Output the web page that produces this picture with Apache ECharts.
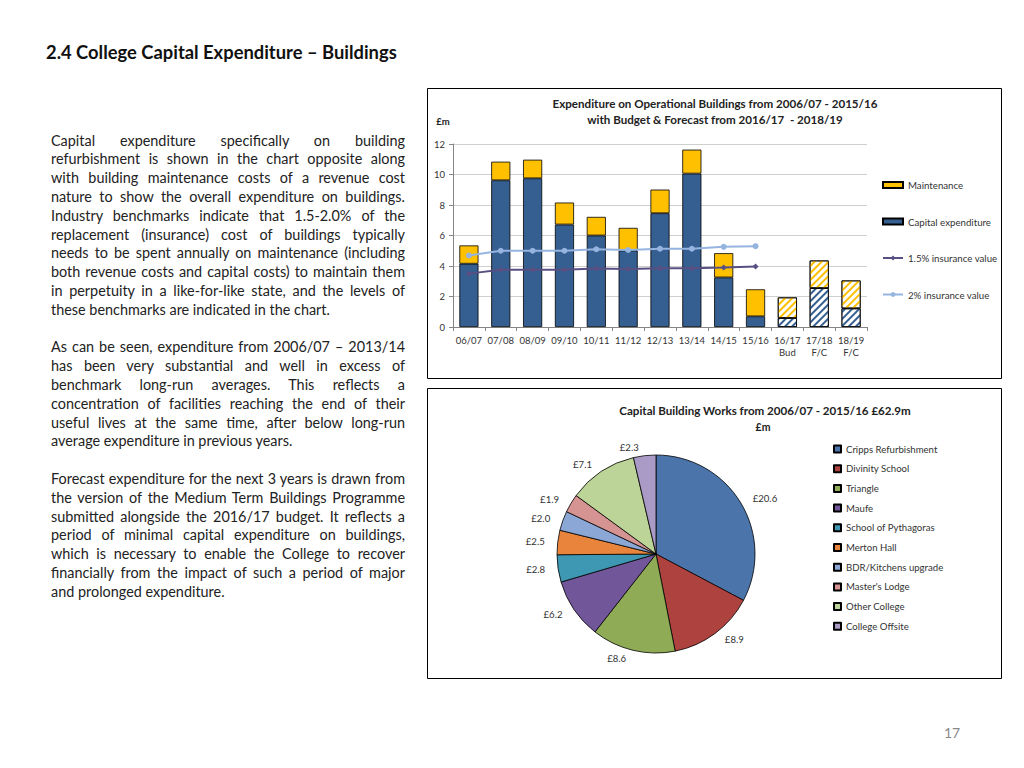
<!DOCTYPE html>
<html>
<head>
<meta charset="utf-8">
<script src="https://cdn.jsdelivr.net/npm/echarts@6/dist/echarts.min.js"></script>
<style>
  html, body { margin:0; padding:0; background:#fff; }
  #page { position:relative; width:1024px; height:768px; overflow:hidden; }
  #chart { position:absolute; left:0; top:0; width:1024px; height:768px; }
  #title { position:absolute; left:46px; top:41px; font-family:Lato, sans-serif; font-weight:bold; font-size:16px; color:#111; white-space:nowrap; }
  #body { position:absolute; left:51px; top:131.6px; width:354px; font-family:Lato, sans-serif; font-size:13px; line-height:18.8px; color:#222; }
  #body .l { white-space:nowrap; text-align:justify; text-align-last:justify; height:18.8px; }
  #body .e { white-space:nowrap; text-align:left; height:18.8px; }
  #body .gap { height:18.8px; }
  #pnum { position:absolute; left:944px; top:724px; font-family:Lato, sans-serif; font-size:14px; color:#8a8a8a; }
</style>
</head>
<body>
<div id="page">
  <div id="chart"></div>
  <div id="title">2.4 College Capital Expenditure – Buildings</div>
  <div id="body">
    <div class="l">Capital expenditure specifically on building</div>
    <div class="l">refurbishment is shown in the chart opposite along</div>
    <div class="l">with building maintenance costs of a revenue cost</div>
    <div class="l">nature to show the overall expenditure on buildings.</div>
    <div class="l">Industry benchmarks indicate that 1.5-2.0% of the</div>
    <div class="l">replacement (insurance) cost of buildings typically</div>
    <div class="l">needs to be spent annually on maintenance (including</div>
    <div class="l">both revenue costs and capital costs) to maintain them</div>
    <div class="l">in perpetuity in a like-for-like state, and the levels of</div>
    <div class="e">these benchmarks are indicated in the chart.</div>
    <div class="gap"></div>
    <div class="l">As can be seen, expenditure from 2006/07 – 2013/14</div>
    <div class="l">has been very substantial and well in excess of</div>
    <div class="l">benchmark long-run averages. This reflects a</div>
    <div class="l">concentration of facilities reaching the end of their</div>
    <div class="l">useful lives at the same time, after below long-run</div>
    <div class="e">average expenditure in previous years.</div>
    <div class="gap"></div>
    <div class="l">Forecast expenditure for the next 3 years is drawn from</div>
    <div class="l">the version of the Medium Term Buildings Programme</div>
    <div class="l">submitted alongside the 2016/17 budget. It reflects a</div>
    <div class="l">period of minimal capital expenditure on buildings,</div>
    <div class="l">which is necessary to enable the College to recover</div>
    <div class="l">financially from the impact of such a period of major</div>
    <div class="e">and prolonged expenditure.</div>
  </div>
  <div id="pnum">17</div>
</div>
<script>
// ---- Bar chart data ----
const categories = ['06/07','07/08','08/09','09/10','10/11','11/12','12/13','13/14','14/15','15/16','16/17\nBud','17/18\nF/C','18/19\nF/C'];
const capitalExp = [4.15, 9.62, 9.75, 6.72, 6.00, 5.02, 7.46, 10.06, 3.25, 0.70, 0.59, 2.55, 1.22];
const maintenance = [1.20, 1.22, 1.22, 1.44, 1.22, 1.48, 1.55, 1.57, 1.59, 1.77, 1.35, 1.81, 1.83];
const insurance15 = [3.50, 3.75, 3.75, 3.75, 3.83, 3.80, 3.86, 3.86, 3.90, 3.97, null, null, null];
const insurance2 = [4.69, 5.00, 5.00, 5.00, 5.10, 5.05, 5.13, 5.13, 5.26, 5.30, null, null, null];
const forecastFlags = [false,false,false,false,false,false,false,false,false,false,true,true,true];
const yTicks = [0, 2, 4, 6, 8, 10, 12];

// ---- Pie data ----
const pieNames = ['Cripps Refurbishment','Divinity School','Triangle','Maufe','School of Pythagoras','Merton Hall','BDR/Kitchens upgrade',"Master's Lodge",'Other College','College Offsite'];
const pieValues = [20.6, 8.9, 8.6, 6.2, 2.8, 2.5, 2.0, 1.9, 7.1, 2.3];

// ---- styles ----
const FONT = 'Lato, sans-serif';
const capColor = '#355e91';
const mntColor = '#ffc000';
const pieColors = ['#4a74aa','#ad423f','#8fab55','#72569a','#3f98b3','#e8843c','#8aa7d6','#d59391','#bcd497','#a99ac6'];

function hatch(color) {
  return { symbol:'rect', symbolSize:1, dashArrayX:[1,0], dashArrayY:[2,3], rotation:-Math.PI/4, color:color };
}
function barData(vals, color) {
  return vals.map((v, i) => forecastFlags[i]
    ? { value:v, itemStyle:{ color:'#ffffff', decal:hatch(color) } }
    : v);
}

const chart = echarts.init(document.getElementById('chart'), null, { renderer:'svg', width:1024, height:768 });

const option = {
  animation:false,
  textStyle:{ fontFamily:FONT },
  grid:{ left:453, right:157, top:144, bottom:441 },
  xAxis:{
    type:'category', data:categories,
    axisLine:{ lineStyle:{ color:'#868686', width:1 } },
    axisTick:{ show:true, length:4, lineStyle:{ color:'#868686' } },
    axisLabel:{ fontSize:9.5, color:'#333', fontFamily:FONT, margin:7, lineHeight:12.5, interval:0 }
  },
  yAxis:{
    type:'value', min:0, max:12, interval:2,
    axisLine:{ show:true, lineStyle:{ color:'#868686' } },
    axisTick:{ show:true, length:4, lineStyle:{ color:'#868686' } },
    splitLine:{ lineStyle:{ color:'#cfcfcf' } },
    axisLabel:{ fontSize:9.5, color:'#333', fontFamily:FONT, margin:8 }
  },
  legend:[{
    orient:'vertical', left:882, top:180, padding:0, itemGap:26.5, itemWidth:20, itemHeight:6,
    textStyle:{ fontSize:9.7, color:'#333', fontFamily:FONT },
    data:[{ name:'Maintenance', icon:'rect' }, { name:'Capital expenditure', icon:'rect' }, '1.5% insurance value', '2% insurance value']
  },{
    orient:'vertical', left:833, top:444, padding:0, itemGap:9.7, itemWidth:7, itemHeight:7, icon:'rect',
    textStyle:{ fontSize:9.6, color:'#333', fontFamily:FONT },
    data:pieNames
  }],
  series:[
    { name:'Capital expenditure', type:'bar', stack:'exp', barCategoryGap:'40%',
      itemStyle:{ color:capColor, borderColor:'#000', borderWidth:0.8 },
      data:barData(capitalExp, capColor) },
    { name:'Maintenance', type:'bar', stack:'exp', barCategoryGap:'40%',
      itemStyle:{ color:mntColor, borderColor:'#000', borderWidth:0.8 },
      data:barData(maintenance, mntColor) },
    { name:'1.5% insurance value', type:'line', data:insurance15,
      symbol:'diamond', symbolSize:6, showAllSymbol:true,
      lineStyle:{ color:'#5a4f82', width:2 }, itemStyle:{ color:'#5a4f82' } },
    { name:'2% insurance value', type:'line', data:insurance2,
      symbol:'circle', symbolSize:6, showAllSymbol:true,
      lineStyle:{ color:'#95b4e0', width:2 }, itemStyle:{ color:'#95b4e0' } },
    { name:'Capital Building Works', type:'pie', center:[656,554], radius:99,
      startAngle:90, clockwise:true, color:pieColors,
      itemStyle:{ borderColor:'#000', borderWidth:0.8 },
      label:{ show:true, position:'outside', fontSize:9.6, color:'#333', fontFamily:FONT,
        formatter:p => '£' + Number(p.value).toFixed(1) },
      labelLine:{ show:false, length:8, length2:0 },
      data:pieNames.map((n, i) => ({ name:n, value:pieValues[i] })) }
  ],
  graphic:[
    { type:'rect', shape:{ x:427.5, y:88.5, width:574, height:290 }, style:{ fill:null, stroke:'#000', lineWidth:1 }, silent:true, z:-1 },
    { type:'rect', shape:{ x:427.5, y:388.5, width:574, height:290 }, style:{ fill:null, stroke:'#000', lineWidth:1 }, silent:true, z:-1 },
    { type:'text', x:715, y:103, style:{ text:'Expenditure on Operational Buildings from 2006/07 - 2015/16', font:'bold 11.6px Lato, sans-serif', fill:'#222', textAlign:'center', textVerticalAlign:'middle' } },
    { type:'text', x:715, y:119, style:{ text:'with Budget & Forecast from 2016/17  - 2018/19', font:'bold 11.6px Lato, sans-serif', fill:'#222', textAlign:'center', textVerticalAlign:'middle' } },
    { type:'text', x:443, y:121, style:{ text:'£m', font:'bold 9.5px Lato, sans-serif', fill:'#222', textAlign:'center', textVerticalAlign:'middle' } },
    { type:'text', x:765, y:410, style:{ text:'Capital Building Works from 2006/07 - 2015/16 £62.9m', font:'bold 11.6px Lato, sans-serif', fill:'#222', textAlign:'center', textVerticalAlign:'middle' } },
    { type:'text', x:763, y:427, style:{ text:'£m', font:'bold 10.5px Lato, sans-serif', fill:'#222', textAlign:'center', textVerticalAlign:'middle' } }
  ]
};
chart.setOption(option);

// fit HTML text widths (layout only)
(function fit(){
  const t = document.getElementById('title');
  const tw = t.getBoundingClientRect().width;
  t.style.fontSize = (16 * 351 / tw).toFixed(2) + 'px';
  const lines = document.querySelectorAll('#body .l');
  let maxW = 0;
  lines.forEach(d => {
    const s = document.createElement('span'); s.textContent = d.textContent;
    s.style.whiteSpace = 'nowrap'; s.style.visibility='hidden'; s.style.position='absolute';
    d.parentNode.appendChild(s); maxW = Math.max(maxW, s.getBoundingClientRect().width); s.remove();
  });
  document.getElementById('body').style.fontSize = Math.min(14.5, 13 * 350 / maxW).toFixed(2) + 'px';
})();
</script>
</body>
</html>
